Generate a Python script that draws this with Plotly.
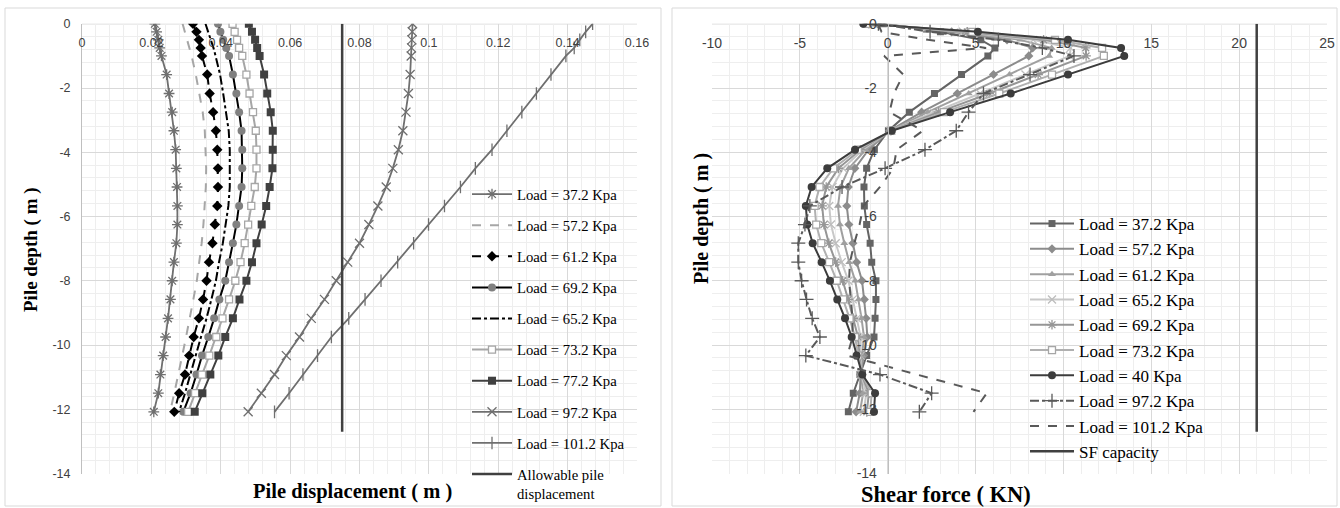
import plotly.graph_objects as go

# ---------------- data ----------------
depth = [0, -0.25, -0.5, -0.75, -1.0, -1.58, -2.17, -2.75, -3.33, -3.92, -4.5, -5.08,
         -5.67, -6.25, -6.83, -7.42, -8.0, -8.58, -9.17, -9.75, -10.33, -10.92, -11.5, -12.08]

# Left chart: pile displacement (m)
disp_labels = ["Load = 37.2 Kpa", "Load = 57.2 Kpa", "Load = 61.2 Kpa", "Load = 69.2 Kpa",
               "Load = 65.2 Kpa", "Load = 73.2 Kpa", "Load = 77.2 Kpa", "Load = 97.2 Kpa",
               "Load = 101.2 Kpa"]
disp_372 = [0.021, 0.0215, 0.022, 0.0224, 0.0229, 0.0244, 0.0251, 0.026, 0.0265, 0.027, 0.0272, 0.0274,
            0.0275, 0.0275, 0.0272, 0.0265, 0.026, 0.0255, 0.0248, 0.0241, 0.0234, 0.0226, 0.022, 0.0207]
disp_572 = [0.029, 0.0297, 0.0304, 0.031, 0.0316, 0.0328, 0.0339, 0.0348, 0.0354, 0.0357, 0.0358, 0.0357,
            0.0354, 0.035, 0.0345, 0.0339, 0.0331, 0.0321, 0.0311, 0.03, 0.0289, 0.0278, 0.0266, 0.0254]
disp_612 = [0.032, 0.033, 0.0337, 0.0342, 0.0346, 0.0361, 0.0368, 0.0378, 0.0386, 0.039, 0.0392, 0.0392,
            0.039, 0.0383, 0.0376, 0.0366, 0.0359, 0.0349, 0.0337, 0.0322, 0.0309, 0.0297, 0.028, 0.0266]
disp_692 = [0.0392, 0.0399, 0.0407, 0.0416, 0.0424, 0.0435, 0.0445, 0.0453, 0.046, 0.0462, 0.0462, 0.046,
            0.0453, 0.0445, 0.0435, 0.0424, 0.0413, 0.0396, 0.0381, 0.0364, 0.0346, 0.033, 0.0313, 0.0292]
disp_652 = [0.0356, 0.0364, 0.0372, 0.0379, 0.0385, 0.0398, 0.0407, 0.0416, 0.0423, 0.0426, 0.0427, 0.0426,
            0.0422, 0.0414, 0.0406, 0.0395, 0.0386, 0.0373, 0.0359, 0.0343, 0.0328, 0.0313, 0.0297, 0.028]
disp_732 = [0.0434, 0.044, 0.0447, 0.0453, 0.0462, 0.0474, 0.0483, 0.0493, 0.0501, 0.0503, 0.0503, 0.0498,
            0.0488, 0.0479, 0.0469, 0.0457, 0.0442, 0.0424, 0.0405, 0.0387, 0.0367, 0.0346, 0.0326, 0.0306]
disp_772 = [0.0481, 0.049, 0.0499, 0.0505, 0.0512, 0.0525, 0.0534, 0.0544, 0.055, 0.055, 0.0549, 0.0541,
            0.0531, 0.0518, 0.0503, 0.049, 0.0474, 0.0454, 0.0435, 0.0413, 0.0393, 0.037, 0.0347, 0.0325]
disp_972 = [0.0953, 0.0952, 0.0951, 0.095, 0.0949, 0.0946, 0.0941, 0.0934, 0.0925, 0.0912, 0.0896, 0.0877,
            0.0853, 0.0827, 0.08, 0.0766, 0.0733, 0.0699, 0.0661, 0.0627, 0.0589, 0.0555, 0.0517, 0.0479]
disp_1012 = [0.1472, 0.1452, 0.1435, 0.1419, 0.1395, 0.1352, 0.131, 0.1268, 0.1225, 0.1182, 0.1134, 0.1091,
             0.1045, 0.0999, 0.0956, 0.091, 0.0862, 0.0816, 0.0769, 0.0719, 0.0679, 0.0637, 0.0597, 0.0555]
allow_disp = 0.075
allow_label = "Allowable pile<br>displacement"
limit_depth = [0, -12.7]

disp_ticks = [0, 0.02, 0.04, 0.06, 0.08, 0.1, 0.12, 0.14, 0.16]
disp_ticktext = ["0", "0.02", "0.04", "0.06", "0.08", "0.1", "0.12", "0.14", "0.16"]
depth_ticks = [0, -2, -4, -6, -8, -10, -12, -14]
depth_ticktext = ["0", "-2", "-4", "-6", "-8", "-10", "-12", "-14"]

# Right chart: shear force (KN)
sf_labels = ["Load = 37.2 Kpa", "Load = 57.2 Kpa", "Load = 61.2 Kpa", "Load = 65.2 Kpa",
             "Load = 69.2 Kpa", "Load = 73.2 Kpa", "Load = 40 Kpa", "Load = 97.2 Kpa",
             "Load = 101.2 Kpa"]
sf_372 = [-0.25, 3.0, 5.3, 6.1, 5.7, 4.2, 2.66, 1.23, 0.04, -0.76, -1.2, -1.35,
          -1.33, -1.2, -1.0, -0.91, -0.67, -0.67, -0.72, -0.78, -1.2, -1.58, -1.96, -2.24]
sf_572 = [-0.59, 3.64, 6.79, 8.25, 8.03, 6.02, 3.96, 1.93, 0.10, -1.09, -1.87, -2.24,
          -2.33, -2.21, -1.98, -1.77, -1.46, -1.33, -1.23, -1.16, -1.37, -1.54, -1.59, -1.80]
sf_612 = [-0.76, 3.96, 7.53, 9.33, 9.19, 6.93, 4.61, 2.27, 0.13, -1.26, -2.21, -2.69,
          -2.83, -2.72, -2.47, -2.19, -1.85, -1.66, -1.49, -1.35, -1.46, -1.52, -1.40, -1.58]
sf_652 = [-0.93, 4.28, 8.28, 10.41, 10.36, 7.84, 5.26, 2.62, 0.15, -1.42, -2.54, -3.14,
          -3.33, -3.23, -2.96, -2.62, -2.24, -1.99, -1.75, -1.54, -1.54, -1.50, -1.22, -1.36]
sf_692 = [-1.07, 4.53, 8.87, 11.27, 11.29, 8.56, 5.78, 2.90, 0.18, -1.55, -2.81, -3.50,
          -3.73, -3.63, -3.35, -2.96, -2.56, -2.25, -1.95, -1.69, -1.61, -1.49, -1.07, -1.19]
sf_732 = [-1.22, 4.81, 9.52, 12.20, 12.30, 9.35, 6.35, 3.20, 0.20, -1.70, -3.10, -3.88,
          -4.16, -4.07, -3.78, -3.33, -2.90, -2.54, -2.17, -1.86, -1.68, -1.47, -0.91, -1.00]
sf_40 = [-1.39, 5.13, 10.26, 13.28, 13.46, 10.26, 7.0, 3.55, 0.23, -1.86, -3.44, -4.33,
         -4.66, -4.58, -4.27, -3.76, -3.29, -2.87, -2.43, -2.05, -1.77, -1.45, -0.72, -0.78]
sf_972 = [-0.53, 2.41, 6.3, 8.8, 10.6, 8.1, 5.45, 4.6, 3.9, 2.12, -0.15, -2.6,
          -4.43, -4.71, -5.09, -5.09, -4.9, -4.62, -4.3, -3.86, -4.66, -0.44, 2.5, 1.8]
sf_1012 = [-0.55, -0.35, 2.3, 5.6, -0.2, 0.89, 0.35, 0.1, 2.0, 0.51, 0.32, -0.44,
           -1.39, -1.6, -1.9, -2.15, -2.2, -2.1, -2.0, -2.0, -2.3, 1.67, 5.64, 4.88]
sf_capacity = 21
sf_cap_label = "SF capacity"

sf_ticks = [-10, -5, 0, 5, 10, 15, 20, 25]
sf_ticktext = ["-10", "-5", "0", "5", "10", "15", "20", "25"]

# ---------------- layout geometry ----------------
W, H = 1340, 508
L_X0, L_X1 = 82 / W, 637 / W
R_X0, R_X1 = 712 / W, 1327 / W
Y0, Y1 = 1 - 473.5 / H, 1 - 23.8 / H
SF_RANGE = [-10, 25]
yaxis2_pos = R_X0 + (0 - SF_RANGE[0]) / (SF_RANGE[1] - SF_RANGE[0]) * (R_X1 - R_X0)

fig = go.Figure()

# ---------------- left chart traces ----------------
left_styles = [
    dict(line=dict(color="#6f6f6f", width=1.8), mode="lines+markers",
         marker=dict(symbol="asterisk-open", size=9, color="#6f6f6f", line=dict(width=1.3, color="#6f6f6f"))),
    dict(line=dict(color="#a6a6a6", width=2, dash="dash"), mode="lines"),
    dict(line=dict(color="#000000", width=2, dash="dash"), mode="lines+markers",
         marker=dict(symbol="diamond", size=8, color="#000000")),
    dict(line=dict(color="#000000", width=2), mode="lines+markers",
         marker=dict(symbol="circle", size=8, color="#808080")),
    dict(line=dict(color="#000000", width=2, dash="dashdot"), mode="lines"),
    dict(line=dict(color="#a6a6a6", width=2), mode="lines+markers",
         marker=dict(symbol="square", size=7, color="white", line=dict(width=1.3, color="#a6a6a6"))),
    dict(line=dict(color="#404040", width=2), mode="lines+markers",
         marker=dict(symbol="square", size=8, color="#404040")),
    dict(line=dict(color="#6f6f6f", width=1.8), mode="lines+markers",
         marker=dict(symbol="x-thin-open", size=9, color="#6f6f6f", line=dict(width=1.3, color="#6f6f6f"))),
    dict(line=dict(color="#6f6f6f", width=1.8), mode="lines+markers",
         marker=dict(symbol="line-ns-open", size=9, color="#6f6f6f", line=dict(width=1.3, color="#6f6f6f"))),
]
left_series = [disp_372, disp_572, disp_612, disp_692, disp_652, disp_732, disp_772, disp_972, disp_1012]
for i, (name, vals, st) in enumerate(zip(disp_labels, left_series, left_styles)):
    fig.add_trace(go.Scatter(x=vals, y=depth, name=name, xaxis="x", yaxis="y",
                             legend="legend", legendgroup="L%d" % i, **st))
fig.add_trace(go.Scatter(x=[allow_disp, allow_disp], y=limit_depth, name=allow_label, mode="lines",
                         line=dict(color="#404040", width=2.5), xaxis="x", yaxis="y",
                         legend="legend", legendgroup="L9"))

# ---------------- right chart traces ----------------
right_styles = [
    dict(line=dict(color="#646464", width=2), mode="lines+markers",
         marker=dict(symbol="square", size=7, color="#646464")),
    dict(line=dict(color="#8c8c8c", width=2), mode="lines+markers",
         marker=dict(symbol="diamond", size=7, color="#8c8c8c")),
    dict(line=dict(color="#a0a0a0", width=2), mode="lines+markers",
         marker=dict(symbol="triangle-up", size=7, color="#a0a0a0")),
    dict(line=dict(color="#c8c8c8", width=2), mode="lines+markers",
         marker=dict(symbol="x-thin-open", size=8, color="#bdbdbd", line=dict(width=1.3, color="#bdbdbd"))),
    dict(line=dict(color="#969696", width=2), mode="lines+markers",
         marker=dict(symbol="asterisk-open", size=8, color="#969696", line=dict(width=1.3, color="#969696"))),
    dict(line=dict(color="#b0b0b0", width=2), mode="lines+markers",
         marker=dict(symbol="square", size=7, color="white", line=dict(width=1.3, color="#a6a6a6"))),
    dict(line=dict(color="#3c3c3c", width=2), mode="lines+markers",
         marker=dict(symbol="circle", size=8, color="#3c3c3c")),
    dict(line=dict(color="#595959", width=2, dash="dashdot"), mode="lines+markers",
         marker=dict(symbol="cross-thin-open", size=10, color="#595959", line=dict(width=1.3, color="#595959"))),
    dict(line=dict(color="#595959", width=2, dash="dash"), mode="lines"),
]
right_series = [sf_372, sf_572, sf_612, sf_652, sf_692, sf_732, sf_40, sf_972, sf_1012]
for i, (name, vals, st) in enumerate(zip(sf_labels, right_series, right_styles)):
    fig.add_trace(go.Scatter(x=vals, y=depth, name=name, xaxis="x2", yaxis="y2",
                             legend="legend2", legendgroup="R%d" % i, **st))
fig.add_trace(go.Scatter(x=[sf_capacity, sf_capacity], y=limit_depth, name=sf_cap_label, mode="lines",
                         line=dict(color="#404040", width=2.5), xaxis="x2", yaxis="y2",
                         legend="legend2", legendgroup="R9"))

# ---------------- axes ----------------
tick_font_l = dict(family="Liberation Sans, Arial", size=12.5, color="#404040")
tick_font_r = dict(family="Liberation Sans, Arial", size=14, color="#404040")
grid_major = "#d9d9d9"
grid_minor = "#eeeeee"
axis_line = "#bfbfbf"

fig.update_layout(
    width=W, height=H, margin=dict(l=0, r=0, t=0, b=0, autoexpand=False),
    paper_bgcolor="white", plot_bgcolor="white",
    xaxis=dict(domain=[L_X0, L_X1], range=[0, 0.16], side="bottom", anchor="free",
               position=1 - 33 / H, automargin=False,
               tickmode="array", tickvals=disp_ticks, ticktext=disp_ticktext,
               tickfont=tick_font_l, ticks="", ticklabelstandoff=0,
               showline=False, showgrid=True, gridcolor=grid_major, zeroline=False,
               minor=dict(tickmode="linear", tick0=0, dtick=0.004, showgrid=True, gridcolor=grid_minor)),
    yaxis=dict(domain=[Y0, Y1], range=[-14, 0], anchor="x", automargin=False,
               tickmode="array", tickvals=depth_ticks, ticktext=depth_ticktext,
               tickfont=tick_font_l, ticks="", ticklabelstandoff=8,
               showline=True, linecolor=axis_line, linewidth=1,
               showgrid=True, gridcolor=grid_major, zeroline=False,
               minor=dict(tickmode="linear", tick0=0, dtick=0.4, showgrid=True, gridcolor=grid_minor)),
    xaxis2=dict(domain=[R_X0, R_X1], range=SF_RANGE, side="bottom", anchor="free",
                position=1 - 33 / H, automargin=False,
                tickmode="array", tickvals=sf_ticks, ticktext=sf_ticktext,
                tickfont=tick_font_r, ticks="", ticklabelstandoff=0,
                showline=False, showgrid=True, gridcolor=grid_major, zeroline=False,
                minor=dict(tickmode="linear", tick0=0, dtick=1, showgrid=True, gridcolor=grid_minor)),
    yaxis2=dict(domain=[Y0, Y1], range=[-14, 0], anchor="free", position=yaxis2_pos, automargin=False,
                tickmode="array", tickvals=depth_ticks, ticktext=depth_ticktext,
                tickfont=tick_font_r, ticks="", ticklabelstandoff=8,
                showline=True, linecolor=axis_line, linewidth=1,
                showgrid=True, gridcolor=grid_major, zeroline=False,
                minor=dict(tickmode="linear", tick0=0, dtick=0.4, showgrid=True, gridcolor=grid_minor)),
    legend=dict(x=467 / W, y=1 - 178 / H, xanchor="left", yanchor="top",
                bgcolor="rgba(0,0,0,0)", borderwidth=0, tracegroupgap=9, itemwidth=40,
                valign="top", font=dict(family="Liberation Serif, Times New Roman", size=14.7, color="#000000")),
    legend2=dict(x=1025 / W, y=1 - 206 / H, xanchor="left", yanchor="top",
                 bgcolor="rgba(0,0,0,0)", borderwidth=0, tracegroupgap=0.2, itemwidth=44,
                 valign="top", font=dict(family="Liberation Serif, Times New Roman", size=17, color="#000000")),
    showlegend=True,
)

# axis lines along depth = 0 (top edge of each plot)
fig.add_shape(type="line", xref="x domain", yref="y", x0=0, x1=1, y0=0, y1=0,
              line=dict(color=axis_line, width=1), layer="below")
fig.add_shape(type="line", xref="x2 domain", yref="y2", x0=0, x1=1, y0=0, y1=0,
              line=dict(color=axis_line, width=1), layer="below")

title_font = "Liberation Serif, Times New Roman"
title_kw = dict(xref="paper", yref="paper", xanchor="center", yanchor="middle", showarrow=False)
fig.add_annotation(text="<b>Pile displacement ( m )</b>", x=352 / W, y=1 - 491 / H,
                   font=dict(family=title_font, size=20.5, color="#000000"), **title_kw)
fig.add_annotation(text="<b>Pile depth ( m )</b>", x=31 / W, y=1 - 250 / H, textangle=-90,
                   font=dict(family=title_font, size=19, color="#000000"), **title_kw)
fig.add_annotation(text="<b>Shear force ( KN)</b>", x=946 / W, y=1 - 494 / H,
                   font=dict(family=title_font, size=22.5, color="#000000"), **title_kw)
fig.add_annotation(text="<b>Pile depth ( m )</b>", x=701 / W, y=1 - 219 / H, textangle=-90,
                   font=dict(family=title_font, size=20, color="#000000"), **title_kw)

# chart area borders
for x0, x1 in [(5, 661), (672, 1337)]:
    fig.add_shape(type="rect", xref="paper", yref="paper", x0=x0 / W, x1=x1 / W, y0=1 - 506 / H, y1=1 - 8 / H,
                  line=dict(color="#d9d9d9", width=1), fillcolor="rgba(0,0,0,0)", layer="below")

fig.write_html("out.html", config={"displayModeBar": False},
               post_script="document.body.style.margin='0px';")
